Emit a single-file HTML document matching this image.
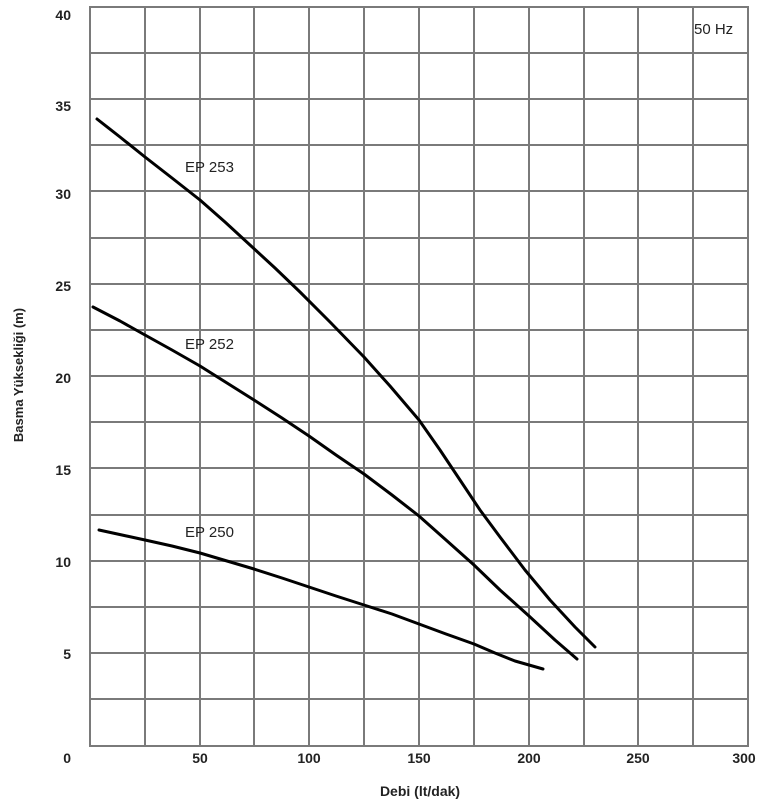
<!DOCTYPE html>
<html><head><meta charset="utf-8"><style>
body{margin:0;background:#fff}
svg text{font-family:"Liberation Sans",sans-serif;fill:#222}
</style></head><body>
<svg width="762" height="800" xmlns="http://www.w3.org/2000/svg">
<g stroke="#7a7a7a" stroke-width="2" fill="none">
<path d="M145,7V746M200,7V746M254,7V746M309,7V746M364,7V746M419,7V746M474,7V746M529,7V746M584,7V746M638,7V746M693,7V746"/>
<path d="M90,53H748M90,99H748M90,145H748M90,191H748M90,238H748M90,284H748M90,330H748M90,376H748M90,422H748M90,468H748M90,515H748M90,561H748M90,607H748M90,653H748M90,699H748"/>
<rect x="90" y="7" width="658" height="739"/>
</g>
<g stroke="#000" stroke-width="3" fill="none" stroke-linecap="round" stroke-linejoin="round">
<polyline points="97,119 120,137 145,157 172,178 200,200 225,222 250,245 275,268 300,292 330,322 364,357 390,386 419,420 440,450 460,480 480,510 500,537 525,570 550,600 575,627 595,647"/>
<polyline points="93,307 120,321 145,335 172,350 200,366 227,383 254,400 282,418 309,436 336,455 364,474 392,495 419,516 446,540 474,565 500,590 529,616 555,640 577,659"/>
<polyline points="99,530 122,535 145,540 172,546 200,553 227,561 254,569 282,578 309,587 336,596 364,605 392,614 419,624 446,634 474,644 495,653 515,661 543,669"/>
</g>
<g font-size="14" font-weight="bold" text-anchor="end">
<text x="71" y="20">40</text><text x="71" y="111">35</text><text x="71" y="199">30</text>
<text x="71" y="291">25</text><text x="71" y="383">20</text><text x="71" y="475">15</text>
<text x="71" y="567">10</text><text x="71" y="659">5</text><text x="71" y="763">0</text>
</g>
<g font-size="14" font-weight="bold" text-anchor="middle">
<text x="200" y="763">50</text><text x="309" y="763">100</text><text x="419" y="763">150</text>
<text x="529" y="763">200</text><text x="638" y="763">250</text><text x="744" y="763">300</text>
<text x="420" y="796">Debi (lt/dak)</text>
</g>
<g font-size="15">
<text x="185" y="172">EP 253</text><text x="185" y="349">EP 252</text><text x="185" y="537">EP 250</text>
<text x="694" y="34">50 Hz</text>
</g>
<text transform="translate(23,375) rotate(-90)" font-size="13" font-weight="bold" text-anchor="middle">Basma Yükseklіği (m)</text>
</svg>
</body></html>
